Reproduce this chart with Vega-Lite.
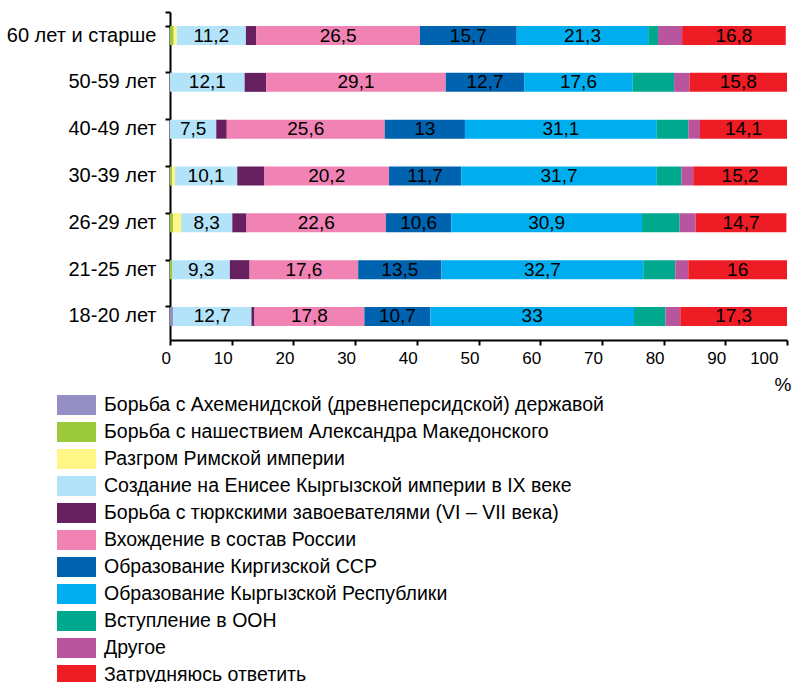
{
  "$schema": "https://vega.github.io/schema/vega-lite/v6.json",
  "width": 617,
  "height": 328,
  "autosize": {"type": "none"},
  "padding": {"left": 170, "top": 12, "right": 14, "bottom": 342},
  "config": {
    "locale": {"number": {"decimal": ",", "thousands": " ", "grouping": [3], "currency": ["", ""]}},
    "font": "Liberation Sans",
    "view": {"stroke": null}
  },
  "data": {
    "values": [
      {"age": "60 лет и старше", "n": 2, "v": 0.6},
      {"age": "60 лет и старше", "n": 3, "v": 0.5},
      {"age": "60 лет и старше", "n": 4, "v": 11.2},
      {"age": "60 лет и старше", "n": 5, "v": 1.7},
      {"age": "60 лет и старше", "n": 6, "v": 26.5},
      {"age": "60 лет и старше", "n": 7, "v": 15.7},
      {"age": "60 лет и старше", "n": 8, "v": 21.3},
      {"age": "60 лет и старше", "n": 9, "v": 1.6},
      {"age": "60 лет и старше", "n": 10, "v": 3.9},
      {"age": "60 лет и старше", "n": 11, "v": 16.8},
      {"age": "50-59 лет", "n": 4, "v": 12.1},
      {"age": "50-59 лет", "n": 5, "v": 3.5},
      {"age": "50-59 лет", "n": 6, "v": 29.1},
      {"age": "50-59 лет", "n": 7, "v": 12.7},
      {"age": "50-59 лет", "n": 8, "v": 17.6},
      {"age": "50-59 лет", "n": 9, "v": 6.7},
      {"age": "50-59 лет", "n": 10, "v": 2.5},
      {"age": "50-59 лет", "n": 11, "v": 15.8},
      {"age": "40-49 лет", "n": 4, "v": 7.5},
      {"age": "40-49 лет", "n": 5, "v": 1.7},
      {"age": "40-49 лет", "n": 6, "v": 25.6},
      {"age": "40-49 лет", "n": 7, "v": 13},
      {"age": "40-49 лет", "n": 8, "v": 31.1},
      {"age": "40-49 лет", "n": 9, "v": 5.1},
      {"age": "40-49 лет", "n": 10, "v": 1.9},
      {"age": "40-49 лет", "n": 11, "v": 14.1},
      {"age": "30-39 лет", "n": 2, "v": 0.3},
      {"age": "30-39 лет", "n": 3, "v": 0.5},
      {"age": "30-39 лет", "n": 4, "v": 10.1},
      {"age": "30-39 лет", "n": 5, "v": 4.4},
      {"age": "30-39 лет", "n": 6, "v": 20.2},
      {"age": "30-39 лет", "n": 7, "v": 11.7},
      {"age": "30-39 лет", "n": 8, "v": 31.7},
      {"age": "30-39 лет", "n": 9, "v": 4.0},
      {"age": "30-39 лет", "n": 10, "v": 1.9},
      {"age": "30-39 лет", "n": 11, "v": 15.2},
      {"age": "26-29 лет", "n": 2, "v": 0.5},
      {"age": "26-29 лет", "n": 3, "v": 1.3},
      {"age": "26-29 лет", "n": 4, "v": 8.3},
      {"age": "26-29 лет", "n": 5, "v": 2.3},
      {"age": "26-29 лет", "n": 6, "v": 22.6},
      {"age": "26-29 лет", "n": 7, "v": 10.6},
      {"age": "26-29 лет", "n": 8, "v": 30.9},
      {"age": "26-29 лет", "n": 9, "v": 6.1},
      {"age": "26-29 лет", "n": 10, "v": 2.6},
      {"age": "26-29 лет", "n": 11, "v": 14.7},
      {"age": "21-25 лет", "n": 2, "v": 0.4},
      {"age": "21-25 лет", "n": 4, "v": 9.3},
      {"age": "21-25 лет", "n": 5, "v": 3.2},
      {"age": "21-25 лет", "n": 6, "v": 17.6},
      {"age": "21-25 лет", "n": 7, "v": 13.5},
      {"age": "21-25 лет", "n": 8, "v": 32.7},
      {"age": "21-25 лет", "n": 9, "v": 5.2},
      {"age": "21-25 лет", "n": 10, "v": 2.1},
      {"age": "21-25 лет", "n": 11, "v": 16},
      {"age": "18-20 лет", "n": 1, "v": 0.5},
      {"age": "18-20 лет", "n": 4, "v": 12.7},
      {"age": "18-20 лет", "n": 5, "v": 0.5},
      {"age": "18-20 лет", "n": 6, "v": 17.8},
      {"age": "18-20 лет", "n": 7, "v": 10.7},
      {"age": "18-20 лет", "n": 8, "v": 33},
      {"age": "18-20 лет", "n": 9, "v": 5.1},
      {"age": "18-20 лет", "n": 10, "v": 2.4},
      {"age": "18-20 лет", "n": 11, "v": 17.3}
    ]
  },
  "transform": [
    {"lookup": "n", "from": {"data": {"values": [
      {"n": 1, "cat": "Борьба с Ахеменидской (древнеперсидской) державой"},
      {"n": 2, "cat": "Борьба с нашествием Александра Македонского"},
      {"n": 3, "cat": "Разгром Римской империи"},
      {"n": 4, "cat": "Создание на Енисее Кыргызской империи в IX веке"},
      {"n": 5, "cat": "Борьба с тюркскими завоевателями (VI – VII века)"},
      {"n": 6, "cat": "Вхождение в состав России"},
      {"n": 7, "cat": "Образование Киргизской ССР"},
      {"n": 8, "cat": "Образование Кыргызской Республики"},
      {"n": 9, "cat": "Вступление в ООН"},
      {"n": 10, "cat": "Другое"},
      {"n": 11, "cat": "Затрудняюсь ответить"}
    ]}, "key": "n", "fields": ["cat"]}}
  ],
  "encoding": {
    "y": {
      "field": "age", "type": "nominal", "title": null,
      "sort": ["60 лет и старше", "50-59 лет", "40-49 лет", "30-39 лет", "26-29 лет", "21-25 лет", "18-20 лет"],
      "scale": {"paddingInner": 0.595, "paddingOuter": 0.3},
      "axis": {
        "domainColor": "#000", "domainWidth": 2, "tickColor": "#000", "tickWidth": 2, "tickSize": 5,
        "bandPosition": 0, "tickExtra": true,
        "labelFontSize": 20, "labelColor": "#000", "labelPadding": 9, "labelLimit": 0
      }
    },
    "x": {
      "field": "v", "type": "quantitative", "stack": "zero",
      "scale": {"domain": [0, 100], "nice": false},
      "axis": {
        "values": [0, 10, 20, 30, 40, 50, 60, 70, 80, 90, 100],
        "grid": false, "domainColor": "#000", "domainWidth": 2, "tickColor": "#000", "tickWidth": 2, "tickSize": 5,
        "labelFontSize": 17, "labelColor": "#000", "labelPadding": 5, "labelOffset": -9,
        "title": "%", "titleFontWeight": "normal", "titleFontSize": 19, "titleColor": "#000",
        "titleX": 621, "titleY": 50, "titleAlign": "right", "titleBaseline": "alphabetic"
      }
    },
    "order": {"field": "n", "type": "quantitative"}
  },
  "layer": [
    {
      "mark": {"type": "bar"},
      "encoding": {
        "color": {
          "field": "cat", "type": "nominal",
          "scale": {
            "domain": [
              "Борьба с Ахеменидской (древнеперсидской) державой",
              "Борьба с нашествием Александра Македонского",
              "Разгром Римской империи",
              "Создание на Енисее Кыргызской империи в IX веке",
              "Борьба с тюркскими завоевателями (VI – VII века)",
              "Вхождение в состав России",
              "Образование Киргизской ССР",
              "Образование Кыргызской Республики",
              "Вступление в ООН",
              "Другое",
              "Затрудняюсь ответить"
            ],
            "range": ["#9490c6", "#9bc93b", "#fff685", "#b3e3f9", "#661f5f", "#f083b3", "#0063b0", "#00aeef", "#00a88d", "#b8559e", "#ee1c25"]
          },
          "legend": {
            "title": null, "orient": "none", "legendX": -103.5, "legendY": 383,
            "direction": "vertical", "columns": 1, "padding": 0,
            "symbolType": "M-1.95,-1H1.95V1H-1.95Z", "symbolSize": 400, "symbolStrokeWidth": 0, "symbolOpacity": 1,
            "labelFontSize": 19.5, "labelColor": "#000", "labelLimit": 0, "labelOffset": 17.5, "rowPadding": 7
          }
        }
      }
    },
    {
      "mark": {"type": "text", "fontSize": 19, "color": "#000", "baseline": "middle"},
      "encoding": {
        "x": {"field": "v", "type": "quantitative", "stack": "zero", "bandPosition": 0.5},
        "text": {"condition": {"test": "datum.v >= 7", "field": "v", "type": "quantitative", "format": "~g"}, "value": ""}
      }
    }
  ]
}
